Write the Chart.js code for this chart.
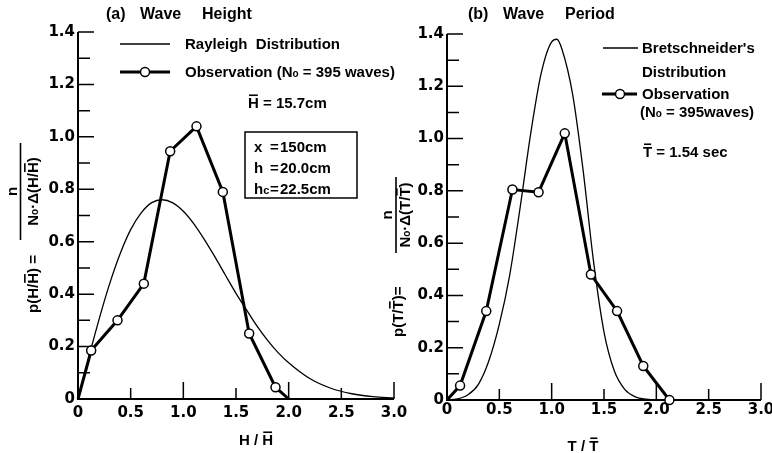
<!DOCTYPE html>
<html>
<head>
<meta charset="utf-8">
<script src="https://cdn.jsdelivr.net/npm/chart.js@4.4.0/dist/chart.umd.min.js"></script>
<style>
  html, body { margin: 0; padding: 0; background: #fff; }
  #wrap { position: relative; width: 772px; height: 453px; }
  canvas { position: absolute; left: 0; top: 0; }
</style>
</head>
<body>
<div id="wrap">
  <canvas id="height-chart" width="772" height="453"></canvas>
  <canvas id="period-chart" width="772" height="453"></canvas>
</div>
<script>
// (a) wave height, observed points (class centres of H/Hbar)
const obsHeightX = [0, 0.125, 0.375, 0.625, 0.875, 1.125, 1.375, 1.625, 1.875, 2.0];
const obsHeightY = [0, 0.185, 0.30, 0.44, 0.945, 1.04, 0.79, 0.25, 0.045, 0];

// Rayleigh distribution
const rayleighX = [0, 0.1, 0.2, 0.3, 0.4, 0.5, 0.6, 0.7, 0.8, 0.9, 1.0, 1.1, 1.2, 1.3, 1.4, 1.5, 1.6, 1.7, 1.8, 1.9, 2.0, 2.2, 2.4, 2.6, 2.8, 3.0];
const rayleighY = [0, 0.156, 0.304, 0.439, 0.554, 0.646, 0.710, 0.749, 0.760, 0.748, 0.716, 0.668, 0.608, 0.542, 0.472, 0.403, 0.340, 0.278, 0.224, 0.177, 0.138, 0.078, 0.041, 0.020, 0.009, 0.004];

// (b) wave period, observed points
const obsPeriodX = [0, 0.125, 0.375, 0.625, 0.875, 1.125, 1.375, 1.625, 1.875, 2.125];
const obsPeriodY = [0, 0.055, 0.34, 0.805, 0.795, 1.02, 0.48, 0.34, 0.13, 0];

// Bretschneider's period distribution
const bretX = [0, 0.1, 0.2, 0.3, 0.4, 0.5, 0.6, 0.7, 0.8, 0.9, 1.0, 1.05, 1.1, 1.2, 1.3, 1.4, 1.5, 1.6, 1.7, 1.8, 1.9, 2.0];
const bretY = [0, 0.004, 0.02, 0.06, 0.15, 0.29, 0.48, 0.74, 1.02, 1.25, 1.37, 1.38, 1.34, 1.17, 0.88, 0.53, 0.26, 0.11, 0.04, 0.012, 0.003, 0];

const xTicks = [0, 0.5, 1.0, 1.5, 2.0, 2.5, 3.0];
const yTicks = [0, 0.2, 0.4, 0.6, 0.8, 1.0, 1.2, 1.4];

const TXT = '"Liberation Sans", Arial, sans-serif';
const font = size => `bold ${size}px ${TXT}`;
const pts = (xs, ys) => xs.map((v, i) => ({x: v, y: ys[i]}));

// text made of pieces: [text, size, dy, overbar]
function runsWidth(ctx, parts) {
  let w = 0;
  parts.forEach(p => { ctx.font = font(p[1]); w += ctx.measureText(p[0]).width; });
  return w;
}
function runs(ctx, x, y, parts, align) {
  let cx = x;
  if (align === 'center') cx -= runsWidth(ctx, parts) / 2;
  // y is the visual centre of capitals
  parts.forEach(p => {
    const [t, size, dy = 0, bar = false] = p;
    ctx.font = font(size);
    const w = ctx.measureText(t).width;
    const base = y + 5.4 + dy;
    ctx.fillText(t, cx, base);
    if (bar) ctx.fillRect(cx + 1, base - size * 0.93, w - 2, 1.6);
    cx += w;
  });
}
function hline(ctx, x1, x2, y, w) {
  ctx.lineWidth = w;
  ctx.beginPath(); ctx.moveTo(x1, y); ctx.lineTo(x2, y); ctx.stroke();
}
function marker(ctx, x, y) {
  ctx.beginPath(); ctx.arc(x, y, 4.5, 0, Math.PI * 2);
  ctx.fillStyle = '#fff'; ctx.fill();
  ctx.lineWidth = 1.5; ctx.stroke();
  ctx.fillStyle = '#000';
}
// rotated y title: "p(v/v̄) = n / (No·Δ(v/v̄))"
function yTitle(ctx, ox, oy, v, o) {
  ctx.save();
  ctx.translate(ox, oy);
  ctx.rotate(-Math.PI / 2);
  ctx.textBaseline = 'alphabetic';
  const pre = [['p(' + v + '/', 15], [v, 15, 0, true], [')', 15], [o.eq, 15]];
  let cx = 0;
  pre.forEach(p => {
    ctx.font = font(p[1]);
    const w = ctx.measureText(p[0]).width;
    ctx.fillText(p[0], cx, 0);
    if (p[3]) ctx.fillRect(cx + 1, -15 * 0.93, w - 2, 1.6);
    cx += w;
  });
  // fraction
  ctx.fillRect(o.barFrom, o.barY - 0.8, o.barTo - o.barFrom, 1.6);
  ctx.font = font(15);
  ctx.textAlign = 'center';
  ctx.fillText('n', (o.barFrom + o.barTo) / 2, o.numY);
  ctx.textAlign = 'left';
  const den = [['N', 15], ['o', 10], ['·Δ(' + v + '/', 15], [v, 15, 0, true], [')', 15]];
  let dx = (o.barFrom + o.barTo) / 2 - runsWidth(ctx, den) / 2;
  den.forEach(p => {
    ctx.font = font(p[1]);
    const w = ctx.measureText(p[0]).width;
    ctx.fillText(p[0], dx, o.denY);
    if (p[3]) ctx.fillRect(dx + 1, o.denY - 15 * 0.93, w - 2, 1.6);
    dx += w;
  });
  ctx.restore();
}

const axisTicks = {
  id: 'axisTicks',
  beforeDatasetsDraw(chart) {
    const {ctx, scales: {x, y}} = chart;
    const x0 = x.getPixelForValue(0), x1 = x.getPixelForValue(3);
    const y0 = y.getPixelForValue(0), y1 = y.getPixelForValue(1.4);
    ctx.save();
    ctx.strokeStyle = '#000';
    ctx.lineWidth = 2;
    ctx.beginPath();
    ctx.moveTo(x0, y1); ctx.lineTo(x0, y0); ctx.lineTo(x1, y0);
    ctx.stroke();
    ctx.lineWidth = 1.5;
    ctx.beginPath();
    for (let i = 1; i <= 14; i++) {
      const py = y.getPixelForValue(i / 10);
      const len = i % 2 ? 12 : 16;
      ctx.moveTo(x0, py); ctx.lineTo(x0 + len, py);
    }
    for (let i = 1; i <= 6; i++) {
      const px = x.getPixelForValue(i / 2);
      const len = i % 2 ? 11 : 17;
      ctx.moveTo(px, y0); ctx.lineTo(px, y0 - len);
    }
    ctx.stroke();
    ctx.restore();
  }
};

const heightNotes = {
  id: 'heightNotes',
  afterDraw(chart) {
    const ctx = chart.ctx;
    ctx.save();
    ctx.fillStyle = '#000'; ctx.strokeStyle = '#000';
    ctx.textBaseline = 'alphabetic';
    runs(ctx, 106, 14, [['(a)', 16]]);
    runs(ctx, 140, 14, [['Wave', 16]]);
    runs(ctx, 202, 14, [['Height', 16]]);
    hline(ctx, 120, 170, 44, 1.3);
    runs(ctx, 185, 44, [['Rayleigh  Distribution', 15]]);
    hline(ctx, 120, 170, 72, 3);
    marker(ctx, 145, 72);
    runs(ctx, 185, 72, [['Observation (N', 15], ['o', 10], [' = 395 waves)', 15]]);
    runs(ctx, 248, 103, [['H', 15, 0, true], [' = 15.7cm', 15]]);
    ctx.lineWidth = 1.5;
    ctx.strokeRect(245, 132, 112, 66);
    [['x', 147, '150cm'], ['h', 168, '20.0cm'], ['hc', 189, '22.5cm']].forEach(r => {
      if (r[0] === 'hc') runs(ctx, 254, r[1], [['h', 15], ['c', 11]]);
      else runs(ctx, 254, r[1], [[r[0], 15]]);
      runs(ctx, 270, r[1], [['=', 15]]);
      runs(ctx, 280, r[1], [[r[2], 15]]);
    });
    runs(ctx, 256, 440, [['H / ', 15], ['H', 15, 0, true]], 'center');
    yTitle(ctx, 38, 313, 'H', {eq: ' =', barFrom: 73, barTo: 170, barY: -17.5, numY: -21, denY: 0});
    ctx.restore();
  }
};

const periodNotes = {
  id: 'periodNotes',
  afterDraw(chart) {
    const ctx = chart.ctx;
    ctx.save();
    ctx.fillStyle = '#000'; ctx.strokeStyle = '#000';
    ctx.textBaseline = 'alphabetic';
    runs(ctx, 468, 14, [['(b)', 16]]);
    runs(ctx, 503, 14, [['Wave', 16]]);
    runs(ctx, 565, 14, [['Period', 16]]);
    hline(ctx, 603, 638, 48, 1.3);
    runs(ctx, 642, 48, [["Bretschneider's", 15]]);
    runs(ctx, 642, 72, [['Distribution', 15]]);
    hline(ctx, 602, 637, 94, 3);
    marker(ctx, 620, 94);
    runs(ctx, 642, 94, [['Observation', 15]]);
    runs(ctx, 640, 112, [['(N', 15], ['o', 10], [' = 395waves)', 15]]);
    runs(ctx, 643, 152, [['T', 15, 0, true], [' = 1.54 sec', 15]]);
    runs(ctx, 583, 446, [['T / ', 15], ['T', 15, 0, true]], 'center');
    yTitle(ctx, 403, 337, 'T', {eq: '=', barFrom: 84, barTo: 160, barY: -7, numY: -11, denY: 7});
    ctx.restore();
  }
};

function makeChart(id, obs, curve, area, notes) {
  const labelFont = {family: '"DejaVu Sans", sans-serif', weight: 'bold', size: 15};
  const fmt = v => (v === 0 ? '0' : Number(v).toFixed(1));
  return new Chart(document.getElementById(id), {
    type: 'line',
    data: {
      datasets: [
        {
          data: obs,
          borderColor: '#000',
          borderWidth: 3,
          pointRadius: obs.map((p, i) => (i === 0 || (p.y === 0 && area.noLastPoint && i === obs.length - 1)) ? 0 : 4.5),
          pointBackgroundColor: '#fff',
          pointBorderColor: '#000',
          pointBorderWidth: 1.5,
          tension: 0,
          clip: false
        },
        {
          data: curve,
          borderColor: '#000',
          borderWidth: 1.3,
          pointRadius: 0,
          cubicInterpolationMode: 'monotone',
          clip: false
        }
      ]
    },
    options: {
      responsive: false,
      animation: false,
      devicePixelRatio: 1,
      events: [],
      layout: {autoPadding: false, padding: {left: 0, top: area.top, right: area.right, bottom: 0}},
      plugins: {legend: {display: false}, tooltip: {enabled: false}, title: {display: false}},
      scales: {
        x: {
          type: 'linear', min: 0, max: 3,
          afterBuildTicks: s => { s.ticks = xTicks.map(v => ({value: v})); },
          ticks: {color: '#000', font: labelFont, padding: area.xPad, callback: fmt, maxRotation: 0, autoSkip: false},
          grid: {display: false, drawTicks: false},
          border: {display: false},
          afterFit: s => { s.height = area.xH; s.paddingLeft = 0; s.paddingRight = 0; }
        },
        y: {
          type: 'linear', min: 0, max: 1.4,
          afterBuildTicks: s => { s.ticks = yTicks.map(v => ({value: v})); },
          ticks: {color: '#000', font: labelFont, padding: 3, callback: fmt},
          grid: {display: false, drawTicks: false},
          border: {display: false},
          afterFit: s => { s.width = area.yW; s.paddingTop = 0; s.paddingBottom = 0; }
        }
      }
    },
    plugins: [axisTicks, notes]
  });
}

makeChart('height-chart', pts(obsHeightX, obsHeightY), pts(rayleighX, rayleighY),
  {top: 32, right: 378, xH: 54, yW: 78, xPad: 5, noLastPoint: true}, heightNotes);
makeChart('period-chart', pts(obsPeriodX, obsPeriodY), pts(bretX, bretY),
  {top: 34, right: 11, xH: 53, yW: 447, xPad: 1, noLastPoint: false}, periodNotes);
</script>
</body>
</html>
